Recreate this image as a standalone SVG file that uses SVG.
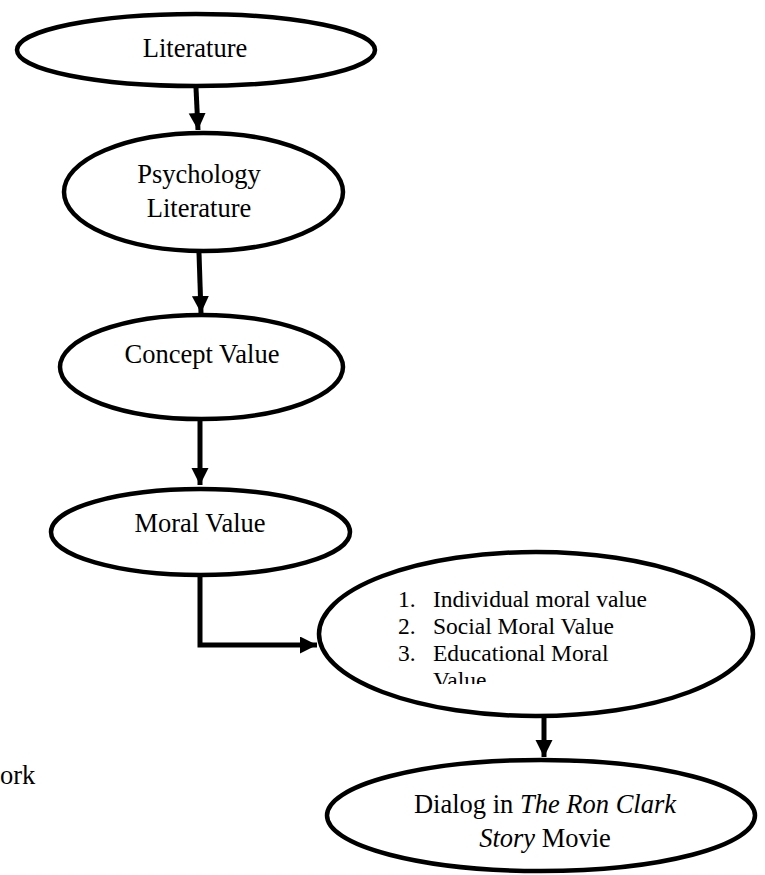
<svg xmlns="http://www.w3.org/2000/svg" width="765" height="875" viewBox="0 0 765 875">
<style>
  .node ellipse { fill: #ffffff; stroke: #000000; stroke-width: 4.5; }
  .t { font-family: "Liberation Serif", "Times New Roman", serif; font-size: 26.5px; fill: #000000; }
  .c { text-anchor: middle; }
  .li { font-family: "Liberation Serif", "Times New Roman", serif; font-size: 23.5px; fill: #000000; }
  .conn { fill: none; stroke: #000000; stroke-width: 5; }
</style>
<defs>
  <marker id="ah" markerUnits="userSpaceOnUse" markerWidth="18" markerHeight="18" refX="17" refY="8.5" orient="auto">
    <path d="M0,0 L17,8.5 L0,17 Z" fill="#000000"/>
  </marker>
  <clipPath id="listclip">
    <rect x="380" y="570" width="330" height="114"/>
  </clipPath>
</defs>

<g id="connectors">
  <path class="conn" d="M196,88 L198,130" marker-end="url(#ah)"/>
  <path class="conn" d="M199,253 L201,313" marker-end="url(#ah)"/>
  <path class="conn" d="M200,421 L200,485" marker-end="url(#ah)"/>
  <path class="conn" d="M200,577 L200,645 L317,645" marker-end="url(#ah)"/>
  <path class="conn" d="M544,717 L544,757" marker-end="url(#ah)"/>
</g>

<g id="node-literature" class="node">
  <ellipse cx="196" cy="50" rx="179" ry="36"/>
  <text class="t c" x="195" y="57">Literature</text>
</g>

<g id="node-psychology" class="node">
  <ellipse cx="203.5" cy="192" rx="139.5" ry="59"/>
  <text class="t c" x="199" y="183">Psychology</text>
  <text class="t c" x="199" y="217">Literature</text>
</g>

<g id="node-concept" class="node">
  <ellipse cx="201.5" cy="367" rx="141.5" ry="52"/>
  <text class="t c" x="202" y="363">Concept Value</text>
</g>

<g id="node-moral" class="node">
  <ellipse cx="200.5" cy="532" rx="149.5" ry="43"/>
  <text class="t c" x="200" y="532">Moral Value</text>
</g>

<g id="node-types" class="node">
  <ellipse cx="536" cy="634" rx="217" ry="82"/>
  <g clip-path="url(#listclip)">
    <text class="li" x="398" y="607">1.</text>
    <text class="li" x="433" y="607">Individual moral value</text>
    <text class="li" x="398" y="634">2.</text>
    <text class="li" x="433" y="634">Social Moral Value</text>
    <text class="li" x="398" y="661">3.</text>
    <text class="li" x="433" y="661">Educational Moral</text>
    <text class="li" x="433" y="688">Value</text>
  </g>
</g>

<g id="node-dialog" class="node">
  <ellipse cx="541" cy="815.5" rx="214" ry="55.5"/>
  <text class="t c" x="545" y="813">Dialog in <tspan font-style="italic">The Ron Clark</tspan></text>
  <text class="t c" x="545" y="847"><tspan font-style="italic">Story</tspan> Movie</text>
</g>

<text class="t" x="0" y="784">ork</text>
</svg>
